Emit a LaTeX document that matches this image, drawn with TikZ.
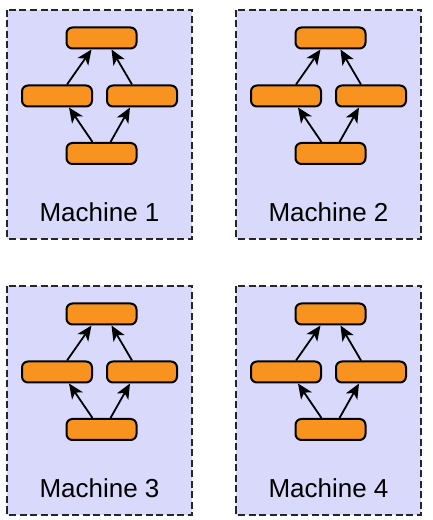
\documentclass[tikz,border=0pt]{standalone}
\usepackage{fontspec}
\setmainfont{Liberation Sans}
\usetikzlibrary{arrows.meta,calc}
\definecolor{boxfill}{HTML}{D9D9FC}
\definecolor{taskfill}{HTML}{F8931F}
\tikzset{
  machinebox/.style={draw=black!85, fill=boxfill, line width=2pt, dash pattern=on 7pt off 3.5pt},
  task/.style={draw=black, fill=taskfill, line width=2pt, rounded corners=6pt, minimum width=70pt, minimum height=21pt, inner sep=0pt},
  arr/.style={draw=black, line width=1.8pt, -{Stealth[length=15pt,width=13pt,inset=4pt]}},
  mlabel/.style={font=\fontsize{26}{30}\selectfont, inner sep=0pt, anchor=base}
}
\begin{document}
\begin{tikzpicture}[x=1pt,y=1pt]
\useasboundingbox (0,0) rectangle (432,520);
\foreach \n/\xl/\yt in {1/7/510, 2/236/510, 3/7/234, 4/236/234}{
  \path[machinebox] (\xl,\yt) rectangle ++(185,-229);
  \coordinate (m\n c) at (\xl+92.5,\yt);
  \node[task] (m\n T) at ($(m\n c)+(2,-28)$) {};
  \node[task] (m\n L) at ($(m\n c)+(-42.5,-86)$) {};
  \node[task] (m\n R) at ($(m\n c)+(42.5,-86)$) {};
  \node[task] (m\n B) at ($(m\n c)+(2,-143.5)$) {};
  \draw[arr] ([xshift=10pt]m\n L.north) -- ([xshift=-10pt]m\n T.south);
  \draw[arr] ([xshift=-10pt]m\n R.north) -- ([xshift=10pt]m\n T.south);
  \draw[arr] ([xshift=-9pt]m\n B.north) -- ([xshift=12pt]m\n L.south);
  \draw[arr] ([xshift=9pt]m\n B.north) -- ([xshift=-12pt]m\n R.south);
  \node[mlabel] (m\n lab) at ($(m\n c)+(0,-212)$) {Machine \n};
}
\end{tikzpicture}
\end{document}
